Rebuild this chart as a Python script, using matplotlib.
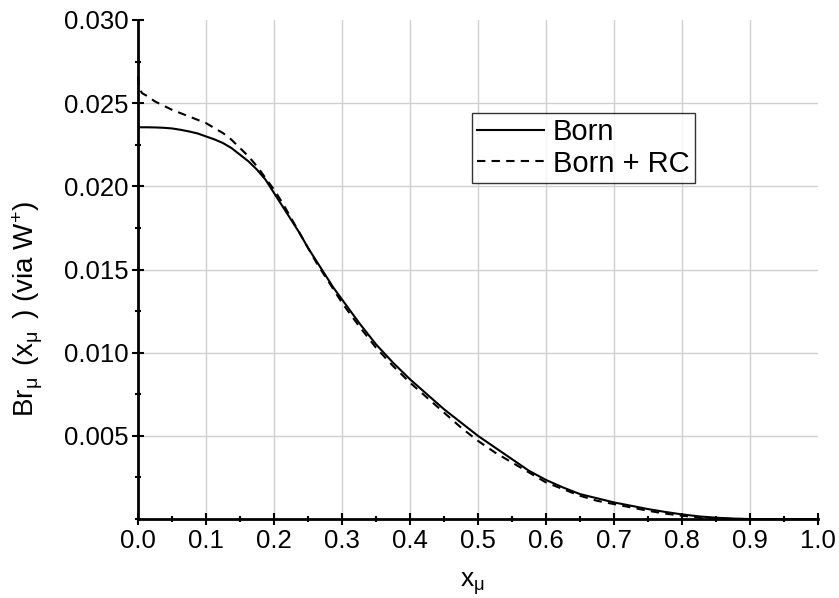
import numpy as np
import matplotlib.pyplot as plt
from matplotlib.ticker import MultipleLocator

plt.rcParams['font.family'] = ['Liberation Sans', 'DejaVu Sans']
plt.rcParams['mathtext.fontset'] = 'custom'
plt.rcParams['mathtext.rm'] = 'Liberation Sans'
plt.rcParams['mathtext.it'] = 'Liberation Sans'

# values
x_born = [0.0, 0.0125, 0.025, 0.0375, 0.05, 0.0625, 0.075, 0.0875, 0.1,
          0.1125, 0.125, 0.1375, 0.15, 0.1625, 0.175, 0.1875, 0.2, 0.2125,
          0.225, 0.2375, 0.25, 0.2625, 0.275, 0.2875, 0.3, 0.325, 0.35, 0.375,
          0.4, 0.425, 0.45, 0.475, 0.5, 0.525, 0.55, 0.575, 0.6, 0.625, 0.65,
          0.675, 0.7, 0.725, 0.75, 0.775, 0.8, 0.825, 0.85, 0.875, 0.9, 0.95,
          1.0]
born = [0.02355, 0.02355, 0.02354, 0.02352, 0.02348, 0.0234, 0.0233, 0.02318,
        0.0230, 0.02282, 0.0226, 0.0223, 0.0219, 0.0215, 0.0210, 0.0204,
        0.0196, 0.0188, 0.0180, 0.0172, 0.0163, 0.0155, 0.0147, 0.0139,
        0.0132, 0.0118, 0.0105, 0.0094, 0.0084, 0.0075, 0.0066, 0.0058,
        0.0050, 0.0043, 0.0036, 0.0029, 0.00235, 0.0019, 0.0015, 0.00125,
        0.00100, 0.0008, 0.0006, 0.00043, 0.00028, 0.00016, 0.00008,
        0.00003, 0.0, 0.0, 0.0]

x_rc = [0.0, 0.001, 0.003, 0.006, 0.0125, 0.025, 0.0375, 0.05, 0.0625, 0.075,
        0.0875, 0.1, 0.1125, 0.125, 0.1375, 0.15, 0.1625, 0.175, 0.1875, 0.2,
        0.2125, 0.225, 0.2375, 0.25, 0.2625, 0.275, 0.2875, 0.3, 0.325, 0.35,
        0.375, 0.4, 0.425, 0.45, 0.475, 0.5, 0.525, 0.55, 0.575, 0.6, 0.625,
        0.65, 0.675, 0.7, 0.725, 0.75, 0.775, 0.8, 0.825, 0.85, 0.875, 0.9,
        0.95, 1.0]
born_rc = [0.0266, 0.0261, 0.0258, 0.0256, 0.02545, 0.0251, 0.02485, 0.0246,
           0.0244, 0.0242, 0.0240, 0.0238, 0.0235, 0.0232, 0.0228, 0.0223,
           0.0218, 0.0212, 0.0205, 0.0198, 0.0190, 0.0181, 0.0172, 0.0163,
           0.0154, 0.0146, 0.0138, 0.0130, 0.0116, 0.0103, 0.0092, 0.0082,
           0.0073, 0.0064, 0.0055, 0.0047, 0.0040, 0.0034, 0.0028, 0.0022,
           0.0018, 0.0014, 0.0011, 0.0009, 0.0007, 0.0005, 0.00033, 0.0002,
           0.0001, 0.00005, 0.00001, 0.0, 0.0, 0.0]

fig = plt.figure(figsize=(8.39, 5.98), dpi=100)
ax = fig.add_axes([0.1645, 0.132, 0.8105, 0.8346])

ax.plot(x_born, born, color='black', lw=1.5, label='Born', zorder=3)
ax.plot(x_rc, born_rc, color='black', lw=1.5, dashes=(4, 3),
        label='Born + RC', zorder=3, clip_on=False)

ax.set_xlim(0, 1.0)
ax.set_ylim(0, 0.030)
ax.xaxis.set_minor_locator(MultipleLocator(0.05))
ax.yaxis.set_minor_locator(MultipleLocator(0.0025))
xt = np.arange(0, 1.01, 0.1)
ax.set_xticks(xt)
ax.set_xticklabels(['%.1f' % v for v in xt])
yt = np.arange(0.005, 0.0301, 0.005)
ax.set_yticks(yt)
ax.set_yticklabels(['%.3f' % v for v in yt])

ax.grid(True, which='major', color='#d0d0d0', lw=1)
for sp in ['top', 'right']:
    ax.spines[sp].set_visible(False)
for sp in ['left', 'bottom']:
    ax.spines[sp].set_linewidth(2)

ax.tick_params(which='major', direction='inout', length=8, width=1.5,
               labelsize=18.5, pad=3)
ax.tick_params(which='minor', direction='inout', length=5, width=1.5)

ax.set_xlabel(r'x$_{\mu}$', fontsize=19)
ax.xaxis.set_label_coords(0.492, -0.102)
ax.set_ylabel(r'Br$_{\mu}\,$ (x$_{\mu}\,$ ) (via W$^{+}$)', fontsize=20)
ax.yaxis.set_label_coords(-0.137, 0.42)

leg = ax.legend(loc='upper left', bbox_to_anchor=(0.491, 0.814), fontsize=21,
                frameon=True, fancybox=False, edgecolor='black',
                handlelength=2.3, borderpad=0.18, labelspacing=0.12,
                handletextpad=0.3, borderaxespad=0)
leg.get_frame().set_linewidth(1)

fig.canvas.draw()
ax.xaxis.get_gridlines()[-1].set_visible(False)
ax.yaxis.get_gridlines()[-1].set_visible(False)

fig.savefig('out.png', dpi=100)
